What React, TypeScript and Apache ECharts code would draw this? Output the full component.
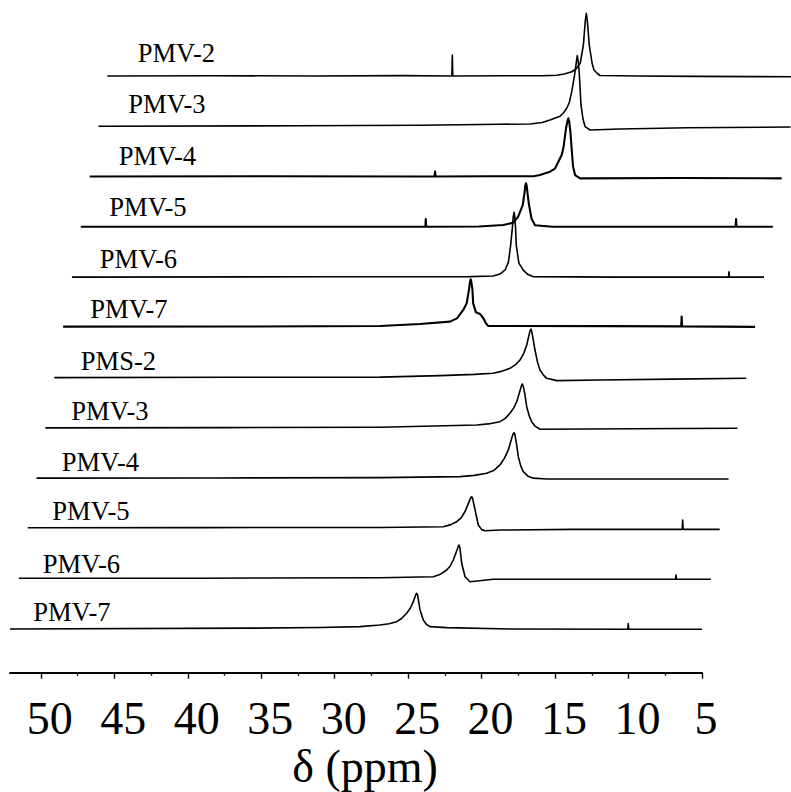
import React, { useEffect, useRef } from "react";
import * as echarts from "echarts";

// ---------------- data ----------------
const SAMPLE_LABELS = [
  "PMV-2", "PMV-3", "PMV-4", "PMV-5", "PMV-6", "PMV-7",
  "PMS-2", "PMV-3", "PMV-4", "PMV-5", "PMV-6", "PMV-7",
];

// [chemical shift (ppm), intensity (a.u.)]
const SPEC_PMV2_A = [
  [52.1, 0], [45, 0.3], [38, 0], [32, 0.4], [28.65, 0], [28.62, 21], [28.59, 0],
  [25, 0.3], [22.5, 0.3], [21.52, 0.8], [21.0, 2], [20.49, 4.3], [20.2, 7], [19.91, 13],
  [19.7, 31], [19.57, 55], [19.5, 62.7], [19.43, 55], [19.3, 31], [19.11, 13],
  [18.98, 6], [18.75, 2.5], [18.57, 0.5], [16, 0], [12, -0.4], [8, -0.6], [5, -0.8],
];
const SPEC_PMV3_A = [
  [52.1, 0], [38.4, 0.5], [30.22, 1.0], [24.77, 2], [22.73, 2.3], [21.9, 3.8], [21.37, 6.3],
  [20.69, 10], [20.45, 13.5], [20.23, 18], [20.05, 24], [19.89, 34.6], [19.7, 51],
  [19.56, 66], [19.51, 70.6], [19.46, 66], [19.39, 56], [19.26, 21.3], [19.12, 7],
  [18.98, -0.4], [18.64, -3.7], [16.6, -2.7], [12, -1.5], [5, -0.7],
];
const SPEC_PMV4_A = [
  [52.1, 0], [40, 0.3], [30, 0], [28.63, 0], [28.59, 5], [28.55, 0], [25, 0.3], [21.9, 0.3],
  [21.45, 1.5], [20.77, 4.8], [20.43, 8], [19.97, 21.5], [19.85, 29], [19.68, 48],
  [19.57, 56], [19.52, 58.2], [19.46, 55], [19.38, 45], [19.3, 29], [19.2, 10],
  [19.06, 1.5], [18.72, -1.8], [12, -1.5], [5, -1.8],
];
const SPEC_PMV5_A = [
  [52.1, 0], [40, 0], [28.65, 0], [28.62, 7.8], [28.59, 0], [25, 0.3], [23.36, 1.8],
  [22.68, 4], [22.34, 10], [22.02, 21.7], [21.9, 34], [21.85, 41], [21.8, 43.5],
  [21.75, 41], [21.7, 34], [21.59, 21.7], [21.42, 8], [21.18, 1.5], [20, 0], [10, 0],
  [7.53, 0], [7.5, 7.8], [7.47, 0], [5, 0],
];
const SPEC_PMV6_A = [
  [52.1, 0], [35, 0.3], [25, 0.5], [23.44, 1.1], [22.97, 3], [22.62, 7.1], [22.39, 15],
  [22.24, 32], [22.12, 50], [22.06, 61], [22.01, 64.8], [21.96, 61], [21.91, 50],
  [21.86, 32], [21.68, 14], [21.38, 7], [21.06, 2.5], [20.72, 0.5], [15, 0],
  [7.41, 0], [7.38, 5.4], [7.35, 0], [5, 0],
];
const SPEC_PMV7_A = [
  [52.1, 0.7], [40, 0.8], [30.53, 1.4], [27.81, 3.4], [25.77, 5.7], [25.29, 9],
  [24.86, 17.4], [24.63, 24], [24.47, 38], [24.41, 45], [24.36, 48.1], [24.31, 45],
  [24.24, 38], [24.19, 24], [24.0, 15], [23.72, 13.4], [23.5, 9.1], [23.32, 4],
  [23.16, 1.4], [15, 1.2], [10.03, 1], [10.0, 10.7], [9.97, 1], [5, 0.5],
];
const SPEC_PMS2_B = [
  [52.1, 0], [40, 0.3], [29.9, 0.5], [25.84, 2], [23.5, 3.2], [22.22, 4.3], [21.6, 6.5],
  [21.08, 9.3], [20.7, 13], [20.4, 17.6], [20.15, 24], [19.94, 32.6], [19.78, 43],
  [19.7, 47.5], [19.65, 48.5], [19.6, 46], [19.5, 38], [19.38, 27.6], [19.2, 15],
  [19.04, 7.6], [18.8, 2.5], [18.58, -0.7], [17.9, -3], [15, -2.4], [10, -1.5], [5, -0.7],
];
const SPEC_PMV3_B = [
  [52.1, 0], [40, 0.3], [29.3, 0.6], [22.74, 2.9], [21.8, 4.3], [21.16, 6.2], [20.8, 9.5],
  [20.48, 14.6], [20.22, 20], [20.02, 26.2], [19.8, 37], [19.69, 42.5], [19.64, 43.9],
  [19.58, 42], [19.47, 34], [19.34, 21.2], [19.17, 12], [19.0, 6.2], [18.75, 1.5],
  [18.44, -1.4], [12, -0.8], [5, -0.4],
];
const SPEC_PMV4_B = [
  [52.1, 0], [40, 0.2], [28.7, 0.5], [23.28, 1.5], [22.3, 2.8], [21.46, 4.9], [20.95, 8],
  [20.56, 13.2], [20.25, 20], [19.99, 28.2], [19.78, 39], [19.66, 44.5], [19.6, 45.5],
  [19.54, 43.5], [19.43, 34], [19.31, 21.5], [19.14, 12], [18.97, 6.5], [18.65, 2],
  [18.29, 0], [17.37, -0.8], [12, -0.8], [5, -0.8],
];
const SPEC_PMV5_B = [
  [52.1, 0.7], [40, 0.8], [28.11, 1], [23.81, 1.7], [23.3, 3.8], [22.9, 6.7], [22.6, 10.5],
  [22.34, 16.7], [22.05, 27], [21.93, 31], [21.88, 31.7], [21.82, 30], [21.65, 18.4],
  [21.43, 3.4], [21.2, -1.2], [20.97, -2.3], [19.95, -1.6], [15, -0.9], [7.55, -0.9],
  [7.52, 8.4], [7.49, -0.9], [5, -0.9],
];
const SPEC_PMV6_B = [
  [52.1, 0.4], [40, 0.5], [27.5, 1], [23.89, 2], [23.4, 4.5], [22.98, 8.7], [22.75, 12.5],
  [22.53, 18.7], [22.27, 29], [22.18, 33], [22.14, 33.7], [22.08, 31], [21.96, 15.4],
  [21.73, 2], [21.39, -3], [19.81, -0.6], [15, -0.6], [7.4, -0.6], [7.37, 3.7],
  [7.34, -0.6], [5, -0.6],
];
const SPEC_PMV7_B = [
  [52.1, 0], [35.8, 0.8], [31.0, 1.5], [28.28, 2.3], [26.92, 4], [26.3, 5.3], [25.78, 7.3],
  [25.45, 10.5], [25.1, 15.7], [24.85, 21], [24.65, 27.3], [24.48, 34.5], [24.42, 35.7],
  [24.36, 34], [24.19, 19], [23.97, 9], [23.75, 4.5], [23.51, 2.3], [22.38, 1.3], [18, 0],
  [10.05, -0.3], [10.02, 5.3], [9.99, -0.3], [5, -0.3],
];

const SPECTRA = [
  SPEC_PMV2_A, SPEC_PMV3_A, SPEC_PMV4_A, SPEC_PMV5_A, SPEC_PMV6_A, SPEC_PMV7_A,
  SPEC_PMS2_B, SPEC_PMV3_B, SPEC_PMV4_B, SPEC_PMV5_B, SPEC_PMV6_B, SPEC_PMV7_B,
];

const PPM_MIN = 5;
const PPM_MAX = 52.1;
const MAJOR_TICKS = [50, 45, 40, 35, 30, 25, 20, 15, 10, 5];
const MINOR_TICKS = [47.5, 42.5, 37.5, 32.5, 27.5, 22.5, 17.5, 12.5, 7.5];
const AXIS_TITLE = "δ (ppm)";

// ---------------- layout ----------------
const W = 791;
const H = 792;
const N = SPECTRA.length;
const SPEC_WIDTH = 692;
const PX_PER_PPM = SPEC_WIDTH / (PPM_MAX - PPM_MIN);
const rowLeft = (i: number) => 10 + 8.85 * (N - 1 - i);
const rowBase = (i: number) => 76 + 50.27 * i;
const labelX = (i: number) => 33.3 + 9.49 * (N - 1 - i);
const LABEL_BASE_Y = [62.7, 113, 165, 216, 268.3, 318.3, 370, 420.7, 471, 520.7, 573.3, 621.7];
const NOISY_ROWS = [2, 3, 5];
const Y_MIN = -20;
const Y_MAX = 75;
const AXIS_LINE_Y = 673;
const SERIF = '"Liberation Serif", "Times New Roman", serif';

export default function App() {
  const ref = useRef<HTMLDivElement>(null);

  useEffect(() => {
    if (!ref.current) return;
    const chart = echarts.init(ref.current, undefined, { renderer: "svg" });

    // grids: one per spectrum, shifted to the right as they go up
    const grids: any[] = SPECTRA.map((_, i) => {
      const left = rowLeft(i);
      const w = Math.min(SPEC_WIDTH, W - left);
      return {
        left,
        top: rowBase(i) - Y_MAX,
        width: w,
        height: Y_MAX - Y_MIN,
        outerBoundsMode: "none",
        containLabel: false,
      };
    });

    const xAxes: any[] = SPECTRA.map((_, i) => {
      const left = rowLeft(i);
      const w = Math.min(SPEC_WIDTH, W - left);
      return {
        type: "value",
        gridIndex: i,
        min: PPM_MAX - w / PX_PER_PPM,
        max: PPM_MAX,
        inverse: true,
        show: false,
      };
    });

    // bottom spectrum's axis is the visible chemical-shift axis
    const bottom = N - 1;
    const axisOffset = AXIS_LINE_Y - (rowBase(bottom) - Y_MIN);
    xAxes[bottom] = {
      type: "value",
      gridIndex: bottom,
      min: PPM_MIN,
      max: PPM_MAX,
      inverse: true,
      position: "bottom",
      offset: axisOffset,
      axisLine: { show: true, onZero: false, lineStyle: { color: "#000", width: 2 } },
      axisTick: {
        show: true,
        inside: false,
        length: 5.7,
        customValues: MAJOR_TICKS,
        lineStyle: { color: "#000", width: 1.4 },
      },
      minorTick: { show: false },
      splitLine: { show: false },
      axisLabel: {
        show: true,
        customValues: MAJOR_TICKS,
        margin: 22,
        formatter: (v: number) => (v < 10 ? `{s|${v}}` : `{d|${v}}`),
        rich: {
          s: { fontSize: 46, fontFamily: SERIF, color: "#000", padding: [0, 0, 0, 8] },
          d: { fontSize: 46, fontFamily: SERIF, color: "#000", padding: [0, 0, 0, 18] },
        },
      },
      name: AXIS_TITLE,
      nameLocation: "middle",
      nameGap: 70,
      nameTextStyle: { fontSize: 46, fontFamily: SERIF, color: "#000", padding: [0, 0, 0, 18] },
    };
    // minor ticks on a companion axis sharing the bottom grid
    xAxes.push({
      type: "value",
      gridIndex: bottom,
      min: PPM_MIN,
      max: PPM_MAX,
      inverse: true,
      position: "bottom",
      offset: axisOffset,
      axisLine: { show: false, onZero: false },
      axisTick: {
        show: true,
        inside: false,
        length: 2.7,
        customValues: MINOR_TICKS,
        lineStyle: { color: "#000", width: 1.4 },
      },
      axisLabel: { show: false },
      splitLine: { show: false },
    });

    const yAxes: any[] = SPECTRA.map((_, i) => ({
      type: "value",
      gridIndex: i,
      min: Y_MIN,
      max: Y_MAX,
      show: false,
    }));

    const series = SPECTRA.map((d, i) => ({
      type: "line",
      name: SAMPLE_LABELS[i],
      xAxisIndex: i,
      yAxisIndex: i,
      data: d,
      symbol: "none",
      silent: true,
      smooth: false,
      lineStyle: { color: "#000", width: NOISY_ROWS.includes(i) ? 2.1 : 1.6, join: "round" },
    }));

    const labelGraphics = SAMPLE_LABELS.map((t, i) => ({
      type: "text",
      x: labelX(i),
      y: LABEL_BASE_Y[i] - 9.45,
      scaleX: 0.95,
      silent: true,
      style: {
        text: t,
        fontSize: 28,
        fontFamily: SERIF,
        fill: "#000",
        align: "left",
        verticalAlign: "middle",
      },
    }));

    chart.setOption({
      animation: false,
      backgroundColor: "#fff",
      grid: grids,
      xAxis: xAxes,
      yAxis: yAxes,
      series,
      graphic: labelGraphics,
    });

    return () => chart.dispose();
  }, []);

  return (
    <div
      ref={ref}
      style={{ position: "absolute", left: 0, top: 0, width: W, height: H, background: "#fff" }}
    />
  );
}
